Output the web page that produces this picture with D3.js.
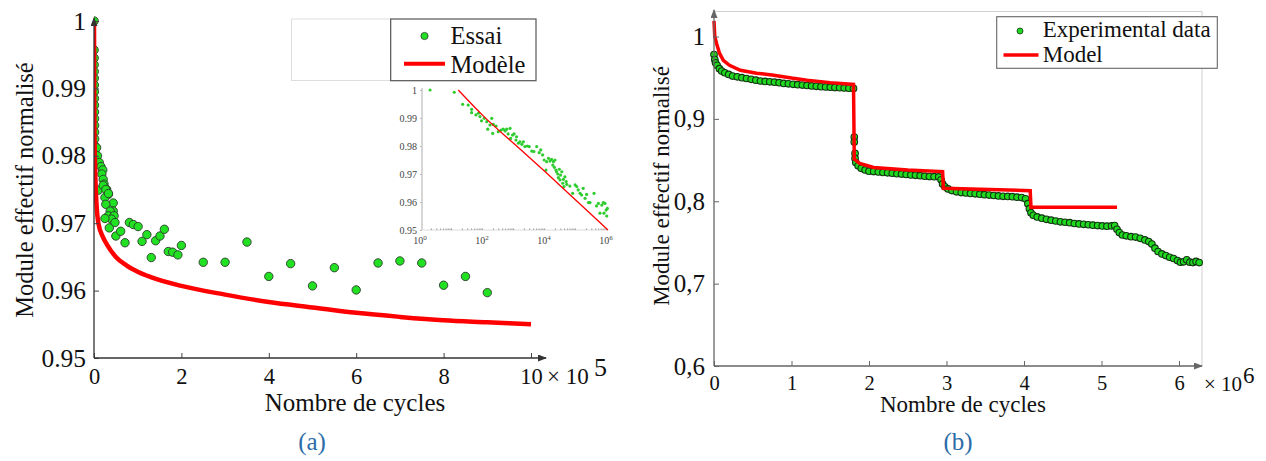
<!DOCTYPE html>
<html><head><meta charset="utf-8">
<script src="https://cdn.jsdelivr.net/npm/d3@7"></script>
<style>body{margin:0;background:#fff}svg{display:block}text{font-family:"Liberation Serif","Times New Roman",serif}</style>
</head><body><svg id="c" width="1266" height="461" font-family="Liberation Serif, Times New Roman, serif"></svg>
<script>
// ---------- Panel (a): cycles in units of 1e5 ----------
const aEssaiCycles = [0.002,0.003,0.004,0.005,0.006,0.007,0.008,0.009,0.010,0.011,0.012,0.013,0.014,0.015,0.016,0.017,0.018,
  0.06,0.08,0.12,0.16,0.20,0.18,0.21,0.23,0.29,0.33,0.25,0.44,0.27,0.44,0.37,0.33,0.46,0.40,0.25,0.48,0.35,0.10,0.21,0.27,0.33,
  0.50,0.61,0.71,0.81,0.90,1.01,1.10,1.21,1.31,1.41,1.51,1.61,1.70,1.80,1.92,2.0,2.5,3.0,3.5,4.0,4.5,5.0,5.5,6.0,6.5,7.0,7.5,8.0,8.5,9.0];
const aEssaiModule = [1.0,0.9957,0.9945,0.9935,0.9925,0.9915,0.9905,0.9895,0.9885,0.9875,0.9865,0.9855,0.9845,0.9835,0.9825,0.9815,0.9805,
  0.9812,0.9800,0.9790,0.9784,0.9779,0.9773,0.9765,0.9758,0.9750,0.9743,0.9738,0.9730,0.9728,0.9718,0.9718,0.9711,0.9711,0.9706,0.9707,0.9701,0.9693,0.9749,0.9756,0.9750,0.9744,
  0.9681,0.9688,0.9671,0.9701,0.9698,0.9695,0.9673,0.9683,0.9649,0.9674,0.9681,0.9691,0.9658,0.9657,0.9653,0.9667,0.9642,0.9642,0.9672,0.9621,0.9640,0.9607,0.9634,0.9601,0.9641,0.9644,0.9641,0.9608,0.9621,0.9597];
const aModelCycles = [0,0.004,0.01,0.03,0.06,0.1,0.2,0.3,0.5,0.75,1.0,1.3,2,3,4,5,6,7,8,9,10];
const aModelModule = [1.0,0.990,0.984,0.977,0.9725,0.970,0.968,0.9668,0.965,0.9637,0.9628,0.962,0.9607,0.9594,0.9583,0.9575,0.9567,0.9561,0.9556,0.9553,0.9550];
const aXTicks = [0,2,4,6,8,10];
const aXTickLabels = ["0","2","4","6","8","10"];
const aYTicks = [0.95,0.96,0.97,0.98,0.99,1];
const aYTickLabels = ["0.95","0.96","0.97","0.98","0.99","1"];

// ---------- Inset of (a): log10 of cycles ----------
const insetLogCycles = [0.26,1.04,1.31,1.49,1.60,1.60,1.74,1.82,1.87,1.92,2.01,2.09,2.12,2.19,2.25,2.28,2.30,2.39,2.46,2.55,2.62,2.68,2.73,2.78,2.84,2.86,2.92,2.97,3.03,3.05,3.11,3.16,3.22,3.27,3.32,3.40,3.46,3.54,3.61,3.70,3.78,3.83,3.89,3.94,4.00,4.02,4.08,4.13,4.18,4.22,4.24,4.27,4.29,4.32,4.34,4.38,4.40,4.43,4.45,4.47,4.51,4.54,4.56,4.58,4.61,4.65,4.67,4.77,4.86,4.94,4.99,5.04,5.10,5.15,5.20,5.26,5.31,5.37,5.42,5.55,5.63,5.69,5.74,5.80,5.85,5.87,5.90,5.94,5.96,5.98];
const insetModule = [1.0,0.9992,0.9949,0.9946,0.9931,0.9919,0.9911,0.9917,0.9905,0.9890,0.9899,0.9887,0.9860,0.9875,0.9899,0.9845,0.9877,0.9871,0.9851,0.9857,0.9860,0.9854,0.9860,0.9843,0.9863,0.9827,0.9839,0.9843,0.9821,0.9833,0.9810,0.9815,0.9806,0.9815,0.9798,0.9800,0.9798,0.9782,0.9780,0.9798,0.9776,0.9786,0.9768,0.9750,0.9714,0.9744,0.9756,0.9746,0.9752,0.9732,0.9744,0.9724,0.9750,0.9714,0.9708,0.9700,0.9687,0.9717,0.9679,0.9696,0.9708,0.9667,0.9681,0.9655,0.9690,0.9673,0.9663,0.9657,0.9631,0.9661,0.9655,0.9643,0.9631,0.9625,0.9649,0.9613,0.9627,0.9598,0.9598,0.9631,0.9586,0.9595,0.9560,0.9589,0.9598,0.9560,0.9595,0.9571,0.9550,0.9577];
const insetModelLog = [1.17,2,3,4,5,6];
const insetModelModule = [1.0,0.9905,0.9805,0.9705,0.9603,0.950];
const insetXTicks = [0,2,4,6];
const insetXTickLabels = ["0","2","4","6"];
const insetYTicks = [0.95,0.96,0.97,0.98,0.99,1];
const insetYTickLabels = ["0.95","0.96","0.97","0.98","0.99","1"];

// ---------- Panel (b): cycles in units of 1e6 ----------
const bExpCycles = [0.00,0.01,0.02,0.04,0.07,0.10,0.14,0.19,0.24,0.30,0.36,0.42,0.48,0.54,0.60,0.66,0.72,0.78,0.84,0.90,0.96,1.02,1.08,1.14,1.20,1.26,1.32,1.38,1.44,1.50,1.56,1.62,1.68,1.74,1.80,
  1.81,1.81,1.82,1.82,1.83,
  1.86,1.90,1.95,2.00,2.06,2.12,2.18,2.24,2.30,2.36,2.42,2.48,2.54,2.60,2.66,2.72,2.78,2.84,2.90,
  2.93,2.95,2.98,3.02,
  3.07,3.13,3.19,3.25,3.31,3.37,3.43,3.49,3.55,3.61,3.67,3.73,3.79,3.85,3.91,3.97,4.02,
  4.05,4.07,4.09,4.12,
  4.17,4.23,4.29,4.35,4.41,4.47,4.53,4.59,4.65,4.71,4.77,4.83,4.89,4.95,5.01,5.07,5.13,5.17,
  5.20,5.23,5.27,
  5.32,5.38,5.44,5.50,5.56,5.61,5.65,5.69,5.73,5.78,5.83,5.88,5.93,5.98,6.02,6.06,6.10,6.14,6.18,6.22,6.26];
const bExpModule = [0.978,0.972,0.968,0.965,0.961,0.958,0.956,0.954,0.952,0.951,0.950,0.949,0.948,0.947,0.946,0.9455,0.945,0.9445,0.944,0.943,0.9425,0.942,0.9415,0.941,0.9405,0.940,0.9395,0.939,0.9388,0.9385,0.938,0.9378,0.9375,0.9372,0.937,
  0.878,0.872,0.858,0.852,0.847,
  0.843,0.840,0.838,0.8365,0.836,0.8355,0.835,0.8345,0.834,0.8335,0.833,0.8325,0.832,0.8315,0.831,0.8305,0.830,0.8298,0.8295,
  0.826,0.821,0.8175,0.815,
  0.813,0.8115,0.8105,0.810,0.8095,0.809,0.8085,0.808,0.8075,0.807,0.8065,0.806,0.8058,0.8055,0.805,0.8045,0.803,
  0.797,0.791,0.786,0.783,
  0.781,0.7795,0.778,0.777,0.776,0.775,0.7745,0.774,0.773,0.7725,0.772,0.7715,0.771,0.7705,0.770,0.7698,0.770,0.7705,
  0.766,0.762,0.759,
  0.758,0.757,0.7565,0.755,0.753,0.751,0.748,0.743,0.739,0.736,0.734,0.732,0.7305,0.728,0.726,0.7265,0.729,0.726,0.7255,0.727,0.7255];
const bModelCycles = [0,0.01,0.035,0.07,0.12,0.2,0.34,0.55,0.77,1.0,1.2,1.5,1.8,1.81,1.88,2.06,2.5,2.95,2.96,4.08,4.09,5.2];
const bModelModule = [1.019,1.0,0.991,0.98,0.971,0.965,0.959,0.9555,0.953,0.9495,0.947,0.944,0.9418,0.851,0.846,0.841,0.838,0.836,0.8157,0.8128,0.7926,0.7926];
const bXTicks = [0,1,2,3,4,5,6];
const bXTickLabels = ["0","1","2","3","4","5","6"];
const bYTicks = [0.6,0.7,0.8,0.9,1];
const bYTickLabels = ["0,6","0,7","0,8","0,9","1"];

const FONT = "Liberation Serif, Times New Roman, serif";
const svg = d3.select("#c");
const defs = svg.append("defs");
function arrow(id, color){
  defs.append("marker").attr("id",id).attr("markerUnits","userSpaceOnUse")
    .attr("markerWidth",9).attr("markerHeight",7).attr("refX",8).attr("refY",3.5).attr("orient","auto")
    .append("path").attr("d","M0,0 L9,3.5 L0,7 Z").attr("fill",color);
}
arrow("arA","#333"); arrow("arB","#666");
const GREEN = "#22e022", RED = "#ff0000";

// ================= Panel (a) =================
const xA = d3.scaleLinear().domain([0,10]).range([94,531]);
const yA = d3.scaleLinear().domain([0.95,1]).range([358,21]);
defs.append("clipPath").attr("id","clipA").append("rect").attr("x",94).attr("y",10).attr("width",460).attr("height",348);

svg.append("rect").attr("x",291.5).attr("y",19).attr("width",99).attr("height",61.5).attr("fill","#fff").attr("stroke","#ddd");

const gA = svg.append("g").attr("clip-path","url(#clipA)");
gA.selectAll("circle").data(aEssaiCycles.map((c,i)=>[c,aEssaiModule[i]])).join("circle")
  .attr("cx",d=>xA(d[0])).attr("cy",d=>yA(d[1])).attr("r",4.2)
  .attr("fill",GREEN).attr("stroke","#2b3b2b").attr("stroke-width",0.9);
gA.append("path").datum(aModelCycles.map((c,i)=>[c,aModelModule[i]]))
  .attr("d",d3.line().x(d=>xA(d[0])).y(d=>yA(d[1])).curve(d3.curveMonotoneX))
  .attr("fill","none").attr("stroke",RED).attr("stroke-width",4.5);

const axA = svg.append("g").attr("transform",`translate(0,${yA(0.95)})`)
  .call(d3.axisBottom(xA).tickValues(aXTicks).tickFormat((d,i)=>aXTickLabels[i]).tickSizeInner(-5).tickSizeOuter(0).tickPadding(10));
const ayA = svg.append("g").attr("transform",`translate(${xA(0)},0)`)
  .call(d3.axisLeft(yA).tickValues(aYTicks).tickFormat((d,i)=>aYTickLabels[i]).tickSizeInner(-5).tickSizeOuter(0).tickPadding(8));
[axA,ayA].forEach(g=>{g.attr("font-family",FONT);g.select(".domain").remove();g.selectAll(".tick line").attr("stroke","#444");
  g.selectAll("text").attr("fill","#111");});
axA.selectAll("text").attr("font-size",22.5);
ayA.selectAll("text").attr("font-size",25.5);
svg.append("line").attr("x1",xA(0)).attr("y1",yA(0.95)).attr("x2",546).attr("y2",yA(0.95)).attr("stroke","#333").attr("stroke-width",1.3).attr("marker-end","url(#arA)");
svg.append("line").attr("x1",xA(0)).attr("y1",yA(0.95)).attr("x2",xA(0)).attr("y2",18).attr("stroke","#333").attr("stroke-width",1.3).attr("marker-end","url(#arA)");
svg.append("text").attr("x",547).attr("y",384).attr("font-size",23).attr("fill","#111").text("× 10");
svg.append("text").attr("x",594).attr("y",376).attr("font-size",26).attr("fill","#111").text("5");
svg.append("text").attr("x",355).attr("y",411).attr("text-anchor","middle").attr("font-size",25).attr("fill","#111").text("Nombre de cycles");
svg.append("text").attr("transform","translate(33,190) rotate(-90)").attr("text-anchor","middle").attr("font-size",24.5).attr("fill","#111").text("Module effectif normalisé");
svg.append("text").attr("x",312).attr("y",450).attr("text-anchor","middle").attr("font-size",25).attr("fill","#2c6da8").text("(a)");

// legend (a)
svg.append("rect").attr("x",390.7).attr("y",19).attr("width",145.3).attr("height",61.7).attr("fill","#fff").attr("stroke","#555").attr("stroke-width",1.2);
svg.append("circle").attr("cx",424.5).attr("cy",36).attr("r",3.6).attr("fill",GREEN).attr("stroke","#2b3b2b").attr("stroke-width",0.8);
svg.append("text").attr("x",450.5).attr("y",43.5).attr("font-size",24.5).attr("fill","#111").text("Essai");
svg.append("line").attr("x1",404).attr("x2",445).attr("y1",63.7).attr("y2",63.7).attr("stroke",RED).attr("stroke-width",4);
svg.append("text").attr("x",450.5).attr("y",72.5).attr("font-size",24.5).attr("fill","#111").text("Modèle");

// ================= Inset =================
const xI = d3.scaleLinear().domain([0,6]).range([422,608]);
const yI = d3.scaleLinear().domain([0.95,1]).range([230,90]);
const gI = svg.append("g");
gI.append("line").attr("x1",xI(0)).attr("x2",xI(0)).attr("y1",yI(1)-2).attr("y2",yI(0.95)).attr("stroke","#c8c8c8").attr("stroke-width",1.5);
gI.append("line").attr("x1",xI(0)).attr("x2",xI(6)).attr("y1",yI(0.95)).attr("y2",yI(0.95)).attr("stroke","#dcdcdc").attr("stroke-width",1);
const minor = [];
for (let e=0;e<6;e++) for (let k=2;k<=9;k++) minor.push(e+Math.log10(k));
gI.selectAll("line.mn").data(minor).join("line").attr("class","mn")
  .attr("x1",d=>xI(d)).attr("x2",d=>xI(d)).attr("y1",yI(0.95)-1.5).attr("y2",yI(0.95)).attr("stroke","#999").attr("stroke-width",1);
const ayI = gI.append("g").attr("transform",`translate(${xI(0)},0)`)
  .call(d3.axisLeft(yI).tickValues(insetYTicks).tickFormat((d,i)=>insetYTickLabels[i]).tickSize(2).tickPadding(3));
ayI.attr("font-family",FONT);
ayI.select(".domain").remove();
ayI.selectAll(".tick line").attr("stroke","#bbb");
ayI.selectAll("text").attr("font-size",10).attr("fill","#444");
const xl = gI.selectAll("text.xl").data(insetXTicks).join("text").attr("class","xl")
  .attr("x",d=>xI(d)-2).attr("y",244).attr("text-anchor","middle").attr("font-size",10).attr("fill","#444");
xl.append("tspan").text("10");
xl.append("tspan").attr("dy",-4).attr("font-size",7).text((d,i)=>insetXTickLabels[i]);
gI.selectAll("circle").data(insetLogCycles.map((c,i)=>[c,insetModule[i]])).join("circle")
  .attr("cx",d=>xI(d[0])).attr("cy",d=>yI(d[1])).attr("r",1.6).attr("fill","#2ecc2e");
gI.append("path").datum(insetModelLog.map((c,i)=>[c,insetModelModule[i]]))
  .attr("d",d3.line().x(d=>xI(d[0])).y(d=>yI(d[1])).curve(d3.curveMonotoneX))
  .attr("fill","none").attr("stroke",RED).attr("stroke-width",1.3);

// ================= Panel (b) =================
const xB = d3.scaleLinear().domain([0,6]).range([714,1179]);
const yB = d3.scaleLinear().domain([0.6,1]).range([366,36.5]);
svg.append("path").attr("d",`M${xB(0)},11.5 H1202 V${yB(0.6)}`).attr("fill","none").attr("stroke","#d0d0d0").attr("stroke-width",1);

const gB = svg.append("g");
gB.selectAll("circle").data(bExpCycles.map((c,i)=>[c,bExpModule[i]])).join("circle")
  .attr("cx",d=>xB(d[0])).attr("cy",d=>yB(d[1])).attr("r",3.3)
  .attr("fill","#1fd81f").attr("stroke","#123512").attr("stroke-width",1.1);
gB.append("path").datum(bModelCycles.map((c,i)=>[c,bModelModule[i]]))
  .attr("d",d3.line().x(d=>xB(d[0])).y(d=>yB(d[1])))
  .attr("fill","none").attr("stroke",RED).attr("stroke-width",3.5);

const axB = svg.append("g").attr("transform",`translate(0,${yB(0.6)})`)
  .call(d3.axisBottom(xB).tickValues(bXTicks).tickFormat((d,i)=>bXTickLabels[i]).tickSizeInner(-5).tickSizeOuter(0).tickPadding(9));
const ayB = svg.append("g").attr("transform",`translate(${xB(0)},0)`)
  .call(d3.axisLeft(yB).tickValues(bYTicks).tickFormat((d,i)=>bYTickLabels[i]).tickSizeInner(-5).tickSizeOuter(0).tickPadding(9));
[axB,ayB].forEach(g=>{g.attr("font-family",FONT);g.select(".domain").remove();g.selectAll(".tick line").attr("stroke","#666");
  g.selectAll("text").attr("fill","#111");});
axB.selectAll("text").attr("font-size",20.5);
ayB.selectAll("text").attr("font-size",25);
svg.append("line").attr("x1",xB(0)).attr("y1",yB(0.6)).attr("x2",1202).attr("y2",yB(0.6)).attr("stroke","#666").attr("stroke-width",1.3).attr("marker-end","url(#arB)");
svg.append("line").attr("x1",xB(0)).attr("y1",yB(0.6)).attr("x2",xB(0)).attr("y2",10).attr("stroke","#666").attr("stroke-width",1.3).attr("marker-end","url(#arB)");
svg.append("text").attr("x",1204).attr("y",391).attr("font-size",21).attr("fill","#111").text("× 10");
svg.append("text").attr("x",1243).attr("y",383).attr("font-size",23).attr("fill","#111").text("6");
svg.append("text").attr("x",963).attr("y",412).attr("text-anchor","middle").attr("font-size",23).attr("fill","#111").text("Nombre de cycles");
svg.append("text").attr("transform","translate(669,186) rotate(-90)").attr("text-anchor","middle").attr("font-size",23).attr("fill","#111").text("Module effectif normalisé");
svg.append("text").attr("x",958).attr("y",450).attr("text-anchor","middle").attr("font-size",25).attr("fill","#2c6da8").text("(b)");

// legend (b)
svg.append("rect").attr("x",996.7).attr("y",16.7).attr("width",220.6).attr("height",51.6).attr("fill","#fff").attr("stroke","#666").attr("stroke-width",1.1);
svg.append("circle").attr("cx",1020).attr("cy",31).attr("r",3).attr("fill","#1fd81f").attr("stroke","#123512").attr("stroke-width",0.8);
svg.append("text").attr("x",1042.7).attr("y",37).attr("font-size",23).attr("fill","#111").text("Experimental data");
svg.append("line").attr("x1",1003.5).attr("x2",1038.5).attr("y1",55).attr("y2",55).attr("stroke",RED).attr("stroke-width",3.5);
svg.append("text").attr("x",1042.7).attr("y",62).attr("font-size",23).attr("fill","#111").text("Model");
</script></body></html>
